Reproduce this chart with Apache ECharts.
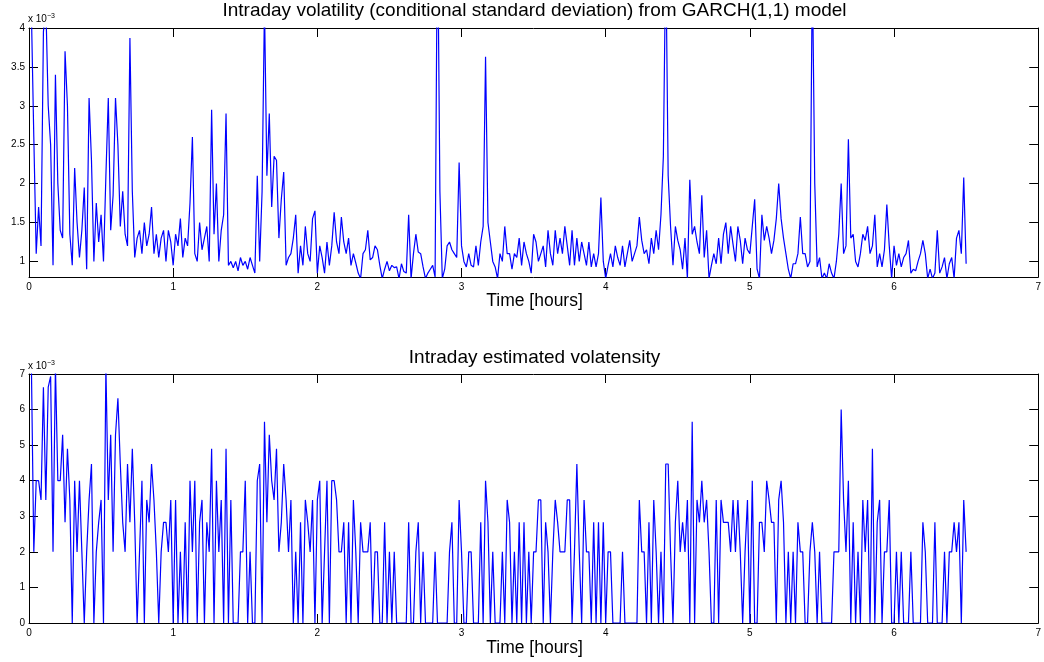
<!DOCTYPE html>
<html>
<head>
<meta charset="utf-8">
<script src="https://cdn.jsdelivr.net/npm/echarts@6/dist/echarts.min.js"></script>
<style>
html,body{margin:0;padding:0;background:#fff;}
#chart{width:1044px;height:662px;}
</style>
</head>
<body>
<div id="chart"></div>
<script>
// ---- data (values in units of 1e-3) ----
const timeStepHours = 1 / 60; // one observation per minute
const xTicks = [0, 1, 2, 3, 4, 5, 6, 7];
const garchTicks = [1, 1.5, 2, 2.5, 3, 3.5, 4];
const volTicks = [0, 1, 2, 3, 4, 5, 6, 7];
const titleTop = 'Intraday volatility (conditional standard deviation) from GARCH(1,1) model';
const titleBottom = 'Intraday estimated volatensity';
const xName = 'Time [hours]';

const garchVol = [
4.5,4.2,2.6,1.1,1.7,1.2,3.95,4.3,3.0,2.5,
0.95,3.4,2.0,1.4,1.3,3.7,3.0,1.35,0.95,2.2,
1.5,1.05,1.4,1.95,0.9,3.1,2.3,1.0,1.75,1.25,
1.6,1.0,2.1,3.1,1.4,1.85,3.1,2.5,1.45,1.9,
1.35,1.2,3.87,1.9,1.05,1.3,1.4,1.1,1.5,1.2,
1.35,1.7,1.1,1.35,1.05,1.3,1.4,1.0,1.4,1.25,
0.95,1.35,1.2,1.55,1.05,1.3,1.2,1.75,2.6,1.1,
1.0,1.5,1.15,1.3,1.45,1.0,2.95,1.35,2.0,1.0,
1.4,1.6,2.9,0.95,1.0,0.92,1.0,0.88,1.05,0.95,
1.0,0.9,1.05,0.95,0.85,2.1,1.0,1.9,4.3,2.1,
2.9,1.7,2.35,2.3,1.3,1.8,2.15,0.95,1.05,1.1,
1.3,1.6,0.85,1.2,0.95,1.45,1.1,1.0,1.55,1.65,
0.85,1.2,1.05,0.85,1.25,0.95,1.2,1.63,1.25,1.1,
1.57,1.25,1.1,1.3,0.95,1.1,0.98,0.85,0.78,1.1,
1.15,1.4,1.02,1.05,1.2,1.15,0.95,0.78,0.9,1.0,
0.88,0.95,0.92,0.93,0.78,0.97,0.87,0.85,1.6,0.78,
1.1,1.35,1.12,1.1,0.93,0.78,0.85,0.9,0.95,0.8,
5.5,1.9,0.78,0.9,1.2,1.25,1.15,1.1,1.05,2.27,
1.2,1.0,0.93,1.1,0.95,0.93,1.2,0.95,1.25,1.45,
3.63,1.5,1.25,1.0,0.93,0.78,1.1,1.0,1.45,1.1,
1.1,0.9,1.1,1.05,1.3,0.95,1.25,1.1,1.0,0.85,
1.35,1.25,1.0,1.1,1.2,0.93,1.4,1.1,0.95,1.4,
1.1,1.3,1.1,1.45,1.2,0.95,1.4,0.95,1.3,1.0,
1.25,1.1,0.95,1.25,0.93,1.1,0.93,1.1,1.82,1.0,
0.78,0.95,1.1,0.93,1.2,1.05,0.95,1.2,0.93,1.1,
1.27,1.0,1.1,1.2,1.57,1.27,1.1,1.15,0.97,1.3,
1.1,1.4,1.15,1.6,2.35,5.0,2.1,1.45,0.95,1.45,
1.27,1.15,0.9,1.3,0.78,2.05,1.35,1.45,1.25,1.1,
1.85,1.05,1.4,0.78,0.95,1.1,0.97,1.3,0.97,1.35,
1.5,1.1,1.45,1.22,1.0,1.45,1.27,0.97,1.3,1.15,
1.1,1.45,1.8,0.9,0.78,1.6,1.27,1.45,1.3,1.1,
1.27,1.55,2.0,1.55,1.3,1.1,0.9,0.78,0.97,0.97,
1.1,1.57,1.1,1.1,0.93,1.0,4.8,2.0,0.93,1.05,
0.78,0.85,0.78,0.97,0.85,0.78,1.0,1.35,2.0,1.1,
1.2,2.57,1.3,1.35,1.0,0.93,1.1,1.35,1.27,1.45,
1.1,1.2,1.6,0.93,1.1,0.93,1.15,1.73,1.2,0.78,
1.2,0.95,1.1,0.93,1.05,1.1,1.27,0.85,0.9,0.88,
1.0,1.1,1.27,1.1,0.78,0.9,0.78,0.85,1.4,0.85,
0.93,1.05,0.78,0.97,1.05,0.78,1.3,1.4,1.1,2.08,
0.97
];

const volatensity = [
7.21,7.21,2,4,4, 3.46,6.63,3.46,6.63,6.93, 2,7.21,4,4,5.29, 2.83,4.9,3.46,0,4, 2,4,2,0,2,
3.46,4.47,0,2,2.83, 3.46,0,7.21,3.46,5.29, 2,5.29,6.32,4.47,2.83, 2,4.47,2.83,4.9,2.83,
0,2,4,0,3.46, 2.83,4.47,3.46,2,0, 2,2.83,2.83,2,3.46, 0,3.46,0,
2,0,2.83,0,4, 2,4,0,2.83,3.46, 0,2.83,2,4.9,0, 4,2,3.46,0,4.9, 0,3.46,0,0,0,
2,2,4,0,2, 0,0,4,4.47,0, 5.66,2.83,5.29,4,3.46, 4.9,2,2.83,4.47,3.46, 2,3.46,0,2,0,
2.83,0,3.46,2.83,2, 3.46,0,3.46,4,0, 2,4,0,4,
4,3.46,2,2,2.83, 0,2.83,0,3.46,2, 0,2.83,2,2,2, 2.83,0,2,2,0, 0,2.83,0,2,0,
2,0,0,0,0, 0,2.83,0,0,2, 2.83,0,2,0,0, 0,0,2,0,0, 0,0,0,2,2.83,
0,0,3.46,2,0, 0,2,2,0,0, 0,2.83,0,4,
2.83,0,2,0,0, 0,2,0,3.46,2.83, 0,2,0,2.83,0, 2.83,0,2,0,2, 2,3.46,3.46,0,2.83,
2,0,2,3.46,2.83, 2,2,2,3.46,3.46, 0,2,4.47,2,0, 3.46,2,2,0,2.83, 0,2.83,0,2.83,0,
2,2,0,0,0, 0,2,0,0,0, 0,0,0,3.46,2,
2,0,2.83,0,3.46, 2,0,2,0,4.47, 4.47,2,0,2.83,4, 2,2.83,2,3.46,0, 5.66,0,3.46,2.83,4,
2.83,3.46,2,0,0, 3.46,0,3.46,2.83,2.83, 2.83,2,3.46,2,3.46, 2,0,2,3.46,0, 4,0,0,2.83,2.83,
2,4,3.46,2.83,2.83, 0,3.46,4,2.83,0, 2,0,2,0,2.83, 2,
2,0,0,2,2.83, 2,0,2,0,0, 0,0,0,2,2, 2,6,3.46,2,4, 0,2.83,0,2,0,
3.46,2,3.46,0,4.9, 0,2.83,3.46,0,2, 2,3.46,0,0,2, 0,2,0,0,0, 2,0,0,0,0,
2.83,2,0,0,0, 2.83,0,0,0,2, 0,2,2,2.83,2, 2.83,0,3.46,2
];

// ---- chart ----
const FONT = '"Liberation Sans", Arial, Helvetica, sans-serif';
const toPairs = arr => arr.map((v, i) => [i * timeStepHours, v]);

const grids = [
  { left: 29, top: 28, width: 1011, height: 249 },
  { left: 29, top: 374, width: 1011, height: 249 }
];

function xAxes(gi) {
  const base = {
    gridIndex: gi, type: 'value', min: xTicks[0], max: xTicks[xTicks.length - 1], interval: 1,
    axisLine: { show: true, onZero: false, lineStyle: { color: '#000', width: 1 } },
    axisTick: { show: true, inside: true, length: 9, lineStyle: { color: '#000', width: 1 } },
    splitLine: { show: false }
  };
  return [
    Object.assign({}, base, { position: 'bottom',
      axisLabel: { show: true, color: '#000', fontSize: 10, fontFamily: FONT, margin: 5 } }),
    Object.assign({}, base, { position: 'top', axisLabel: { show: false } })
  ];
}
function yAxes(gi, min, max, ticks) {
  const base = {
    gridIndex: gi, type: 'value', min: min, max: max,
    axisLine: { show: true, onZero: false, lineStyle: { color: '#000', width: 1 } },
    axisTick: { show: true, inside: true, length: 9, customValues: ticks, lineStyle: { color: '#000', width: 1 } },
    splitLine: { show: false }
  };
  return [
    Object.assign({}, base, { position: 'left',
      axisLabel: { show: true, color: '#000', fontSize: 10, fontFamily: FONT, margin: 4, customValues: ticks } }),
    Object.assign({}, base, { position: 'right', axisLabel: { show: false, customValues: ticks } })
  ];
}

function txt(x, y, s, size, align) {
  return { type: 'text', x: x, y: y, silent: true,
    style: { text: s, fill: '#000', font: size + 'px ' + FONT, textAlign: align || 'center', textVerticalAlign: 'middle' } };
}
function expo(x, y) {
  return { type: 'text', x: x, y: y, silent: true,
    style: { rich: { b: { fontSize: 10, fontFamily: FONT, fill: '#000' }, s: { fontSize: 7, fontFamily: FONT, fill: '#000', verticalAlign: 'top', padding: [0,0,6,0] } },
      text: '{b|x 10}{s|\u22123}', textAlign: 'left', textVerticalAlign: 'middle' } };
}

const chart = echarts.init(document.getElementById('chart'), null, { renderer: 'canvas' });
chart.setOption({
  animation: false,
  backgroundColor: '#fff',
  grid: grids,
  xAxis: [].concat(xAxes(0), xAxes(1)),
  yAxis: [].concat(yAxes(0, 0.8, 4, garchTicks), yAxes(1, 0, 7, volTicks)),
  series: [
    { type: 'line', xAxisIndex: 0, yAxisIndex: 0, data: toPairs(garchVol), showSymbol: false, symbol: 'none',
      clip: true, lineStyle: { color: '#0000ff', width: 1.2 }, emphasis: { disabled: true } },
    { type: 'line', xAxisIndex: 2, yAxisIndex: 2, data: toPairs(volatensity), showSymbol: false, symbol: 'none',
      clip: true, lineStyle: { color: '#0000ff', width: 1.2 }, emphasis: { disabled: true } }
  ],
  graphic: [
    txt(534.5, 11, titleTop, 19),
    txt(534.5, 358, titleBottom, 19),
    txt(534.5, 301, xName, 17.5),
    txt(534.5, 648, xName, 17.5),
    expo(28, 19),
    expo(28, 366)
  ]
});
</script>
</body>
</html>
